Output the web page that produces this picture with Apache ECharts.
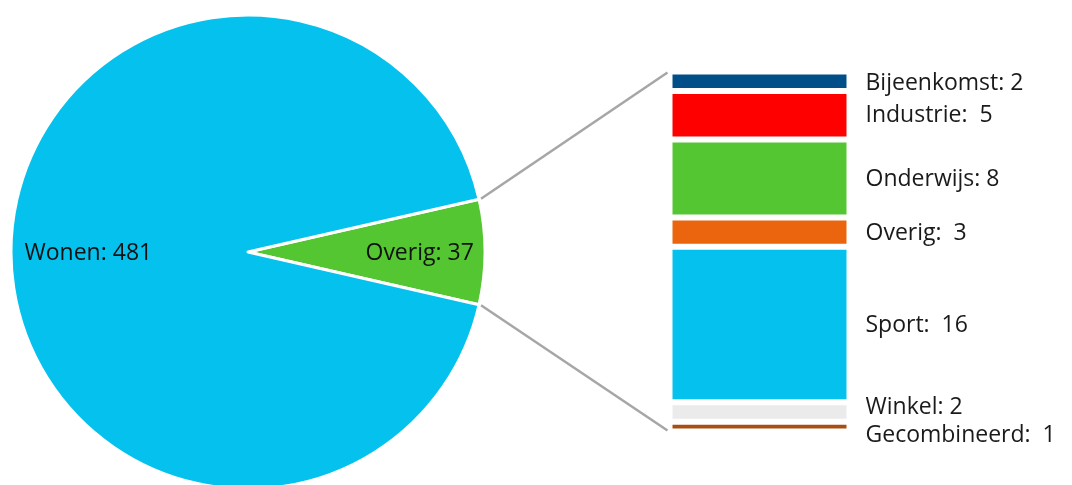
<!DOCTYPE html>
<html>
<head>
<meta charset="utf-8">
<script src="https://cdn.jsdelivr.net/npm/echarts@6/dist/echarts.min.js"></script>
<style>
html,body{margin:0;padding:0;background:#fff;}
#chart{width:1072px;height:485px;}
</style>
</head>
<body>
<div id="chart"></div>
<script>
// Pie data
const pieNames = ['Overig', 'Wonen'];
const pieValues = [37, 481];
const pieColors = ['#54C632', '#05C1EE'];

// Breakdown of "Overig"
const barNames = ['Bijeenkomst', 'Industrie', 'Onderwijs', 'Overig', 'Sport', 'Winkel', 'Gecombineerd'];
const barValues = [2, 5, 8, 3, 16, 2, 1];
const barLabels = ['Bijeenkomst: 2', 'Industrie:  5', 'Onderwijs: 8', 'Overig:  3', 'Sport:  16', 'Winkel: 2', 'Gecombineerd:  1'];
const barColors = ['#004F88', '#FF0000', '#54C632', '#EA650D', '#05C1EE', '#EBEBEB', '#A84E10'];

const FONT = '"Open Sans"';
const pieCenter = [248, 252];
const pieR = 237;
const total = pieValues.reduce((a, b) => a + b, 0);
const startAngle = pieValues[0] / total * 180;
const barTotal = barValues.reduce((a, b) => a + b, 0);

const labelOffsets = [[0,2],[0,0],[0,1],[0,1],[0,1],[0,-5],[0,9]];
const pieLabelOffsets = [[-2,1],[14,1]];

const chart = echarts.init(document.getElementById('chart'), null, {renderer: 'canvas'});

const pieData = pieNames.map((n, i) => ({name: n, value: pieValues[i], itemStyle: {color: pieColors[i]}}));

const option = {
  animation: false,
  backgroundColor: '#ffffff',
  grid: {left: 669.5, top: 71.5, width: 180, height: 360},
  xAxis: {type: 'category', data: ['Overig'], show: false},
  yAxis: {type: 'value', min: 0, max: barTotal, inverse: true, show: false},
  series: [
    {
      type: 'pie',
      center: pieCenter,
      radius: pieR,
      startAngle: startAngle,
      clockwise: true,
      silent: true,
      label: {show: false},
      labelLine: {show: false},
      itemStyle: {borderColor: '#ffffff', borderWidth: 3},
      data: pieData
    },
    {
      type: 'pie',
      center: pieCenter,
      radius: [pieR * 0.44, pieR],
      startAngle: startAngle,
      clockwise: true,
      silent: true,
      itemStyle: {color: 'rgba(0,0,0,0)', borderWidth: 0},
      labelLine: {show: false},
      data: pieData.map((d, i) => ({
        name: d.name, value: d.value,
        label: {
          show: true,
          position: 'inside',
          formatter: p => p.name + ': ' + p.value,
          fontFamily: FONT,
          fontSize: 23,
          color: '#111111',
          offset: pieLabelOffsets[i]
        }
      }))
    }
  ].concat(barNames.map((n, i) => ({
    type: 'bar',
    name: n,
    stack: 'overig',
    barWidth: '100%',
    silent: true,
    itemStyle: {color: barColors[i], borderColor: '#ffffff', borderWidth: 3},
    label: {
      show: true,
      position: 'right',
      distance: 16,
      formatter: barLabels[i],
      fontFamily: FONT,
      fontSize: 23,
      color: '#1a1a1a',
      offset: labelOffsets[i]
    },
    data: [barValues[i]]
  })))
};

chart.setOption(option);

// Connector lines from slice edges to bar corners
const rect = chart.getModel().getComponent('grid', 0).coordinateSystem.getRect();
const half = pieValues[0] / total * Math.PI;
const rr = pieR + 2;
const p1 = [pieCenter[0] + rr * Math.cos(half), pieCenter[1] - rr * Math.sin(half)];
const p2 = [pieCenter[0] + rr * Math.cos(half), pieCenter[1] + rr * Math.sin(half)];
const topY = chart.convertToPixel({yAxisIndex: 0}, 0);
const botY = chart.convertToPixel({yAxisIndex: 0}, barTotal);
chart.setOption({
  graphic: [
    {type: 'line', shape: {x1: p1[0], y1: p1[1], x2: rect.x - 2, y2: topY + 1}, style: {stroke: '#A6A6A6', lineWidth: 2.5}},
    {type: 'line', shape: {x1: p2[0], y1: p2[1], x2: rect.x - 2, y2: botY - 1}, style: {stroke: '#A6A6A6', lineWidth: 2.5}}
  ]
});
</script>
</body>
</html>
